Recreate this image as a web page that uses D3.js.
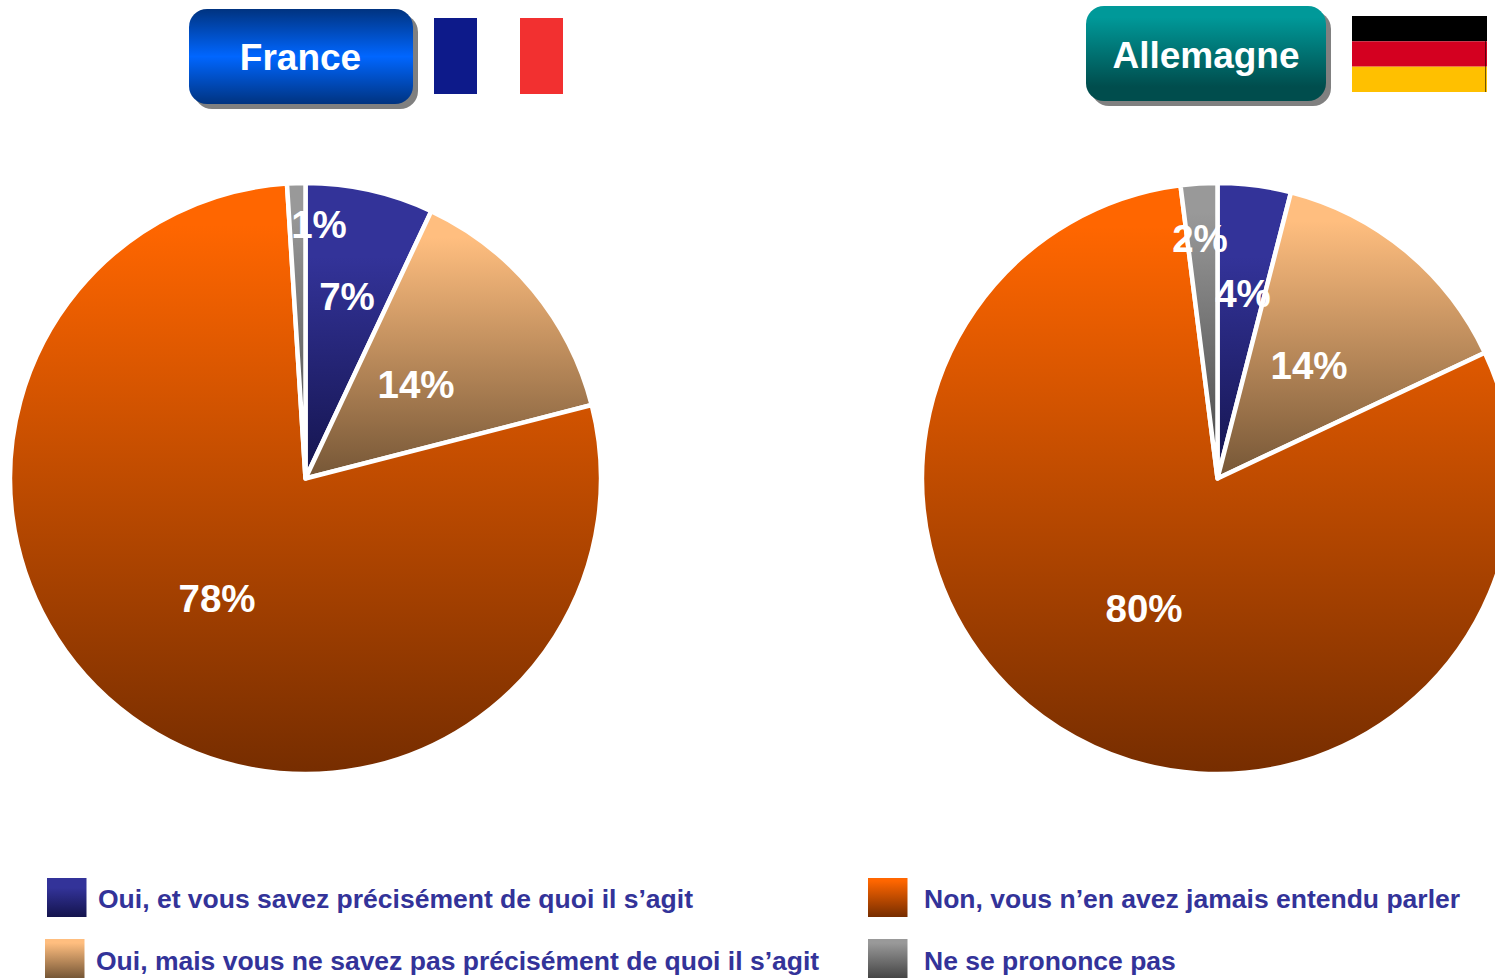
<!DOCTYPE html>
<html>
<head>
<meta charset="utf-8">
<script src="https://cdn.jsdelivr.net/npm/d3@7"></script>
<style>
  html, body { margin: 0; padding: 0; background: #fff; overflow: hidden; }
  text { font-family: "Liberation Sans", Arial, sans-serif; font-weight: bold; }
</style>
</head>
<body>
<div id="chart-container"></div>
<script>
const categories = [
  'Oui, et vous savez précisément de quoi il s’agit',
  'Oui, mais vous ne savez pas précisément de quoi il s’agit',
  'Non, vous n’en avez jamais entendu parler',
  'Ne se prononce pas'
]
const countries = ['France', 'Allemagne']
const franceValues = [7, 14, 78, 1]
const germanyValues = [4, 14, 80, 2]

const chartWidth = 1495
const chartHeight = 978

// top colour, where the fade starts, bottom colour
const sliceColors = [
  ['#333399', 0.25, '#14144d'],
  ['#ffbe7f', 0.1, '#755636'],
  ['#ff6600', 0.07, '#762d00'],
  ['#999999', 0.1, '#454545']
]

const pieLayouts = [
  { values: franceValues, cx: 305.5, cy: 478.5, labels: [[347, 297], [416, 385], [217, 599], [319, 225]] },
  { values: germanyValues, cx: 1217.5, cy: 478.5, labels: [[1243, 294], [1309, 366], [1144, 609], [1200, 239]] }
]
const radius = 295.5

const svg = d3
  .select('#chart-container')
  .append('svg')
  .attr('width', chartWidth)
  .attr('height', chartHeight)
  .style('display', 'block')

const defs = svg.append('defs')

const addGradient = (id, stops) => {
  const gradient = defs
    .append('linearGradient')
    .attr('id', id)
    .attr('x1', 0)
    .attr('y1', 0)
    .attr('x2', 0)
    .attr('y2', 1)
  stops.forEach(([offset, color]) => {
    gradient.append('stop').attr('offset', offset).attr('stop-color', color)
  })
}

sliceColors.forEach(([top, flat, bottom], i) =>
  addGradient(`slice-${i}`, [[0, top], [flat, top], [1, bottom]])
)
addGradient('title-blue', [[0, '#003380'], [0.5, '#0066ff'], [1, '#003380']])
addGradient('title-teal', [[0, '#009999'], [0.12, '#009999'], [0.85, '#004d4d'], [1, '#004d4d']])

const pie = d3.pie().sort(null)
const arc = d3.arc().innerRadius(0).outerRadius(radius)

const drawPie = ({ values, cx, cy, labels }) => {
  const group = svg.append('g').attr('transform', `translate(${cx},${cy})`)

  group
    .selectAll('path')
    .data(pie(values))
    .enter()
    .append('path')
    .attr('d', arc)
    .attr('fill', (d, i) => `url(#slice-${i})`)
    .attr('stroke', '#fff')
    .attr('stroke-width', 4.5)
    .attr('stroke-linejoin', 'round')

  svg
    .append('g')
    .selectAll('text')
    .data(values)
    .enter()
    .append('text')
    .attr('x', (d, i) => labels[i][0])
    .attr('y', (d, i) => labels[i][1])
    .attr('dy', '0.35em')
    .attr('text-anchor', 'middle')
    .attr('font-size', 38.5)
    .attr('fill', '#fff')
    .text(d => `${d}%`)
}

pieLayouts.forEach(drawPie)

const drawTitle = (label, x, y, width, height, fill, textX, textY) => {
  svg
    .append('rect')
    .attr('x', x + 5)
    .attr('y', y + 5)
    .attr('width', width)
    .attr('height', height)
    .attr('rx', 18)
    .attr('fill', '#808080')
  svg
    .append('rect')
    .attr('x', x)
    .attr('y', y)
    .attr('width', width)
    .attr('height', height)
    .attr('rx', 18)
    .attr('fill', `url(#${fill})`)
  svg
    .append('text')
    .attr('x', textX)
    .attr('y', textY)
    .attr('dy', '0.35em')
    .attr('text-anchor', 'middle')
    .attr('font-size', 37)
    .attr('fill', '#fff')
    .text(label)
}

drawTitle(countries[0], 189, 9, 224, 95, 'title-blue', 300.5, 57.5)
drawTitle(countries[1], 1086, 6, 240, 95, 'title-teal', 1206, 55.5)

// flags
const flagFrance = ['#0d1a8a', '#ffffff', '#f23030']
const flagGermany = ['#000000', '#d40020', '#ffc000']

const franceX = d3.scaleBand().domain(d3.range(3)).range([434, 563])
svg
  .append('g')
  .selectAll('rect')
  .data(flagFrance)
  .enter()
  .append('rect')
  .attr('x', (d, i) => franceX(i))
  .attr('y', 18)
  .attr('width', franceX.bandwidth())
  .attr('height', 76)
  .attr('fill', d => d)

const germanyY = d3.scaleBand().domain(d3.range(3)).range([16, 92])
svg
  .append('g')
  .selectAll('rect')
  .data(flagGermany)
  .enter()
  .append('rect')
  .attr('x', 1352)
  .attr('y', (d, i) => germanyY(i))
  .attr('width', 135)
  .attr('height', germanyY.bandwidth())
  .attr('fill', d => d)

// thin dark edge on the right of the german flag
svg
  .append('line')
  .attr('x1', 1485.5)
  .attr('x2', 1485.5)
  .attr('y1', 16)
  .attr('y2', 92)
  .attr('stroke', '#000')
  .attr('stroke-opacity', 0.55)
  .attr('stroke-width', 1)

// legend
const legendSwatchX = [47, 45, 868, 868]
const legendSwatchY = [878, 939, 878, 939]
const legendTextX = [98, 96, 924, 924]
const legendTextY = [908, 970, 908, 970]

const legend = svg.append('g').attr('id', 'legend')

legend
  .selectAll('rect')
  .data(categories)
  .enter()
  .append('rect')
  .attr('x', (d, i) => legendSwatchX[i])
  .attr('y', (d, i) => legendSwatchY[i])
  .attr('width', 39.5)
  .attr('height', 39)
  .attr('fill', (d, i) => `url(#slice-${i})`)

legend
  .selectAll('text')
  .data(categories)
  .enter()
  .append('text')
  .attr('x', (d, i) => legendTextX[i])
  .attr('y', (d, i) => legendTextY[i])
  .attr('font-size', 26.5)
  .attr('fill', '#333399')
  .text(d => d)
</script>
</body>
</html>
